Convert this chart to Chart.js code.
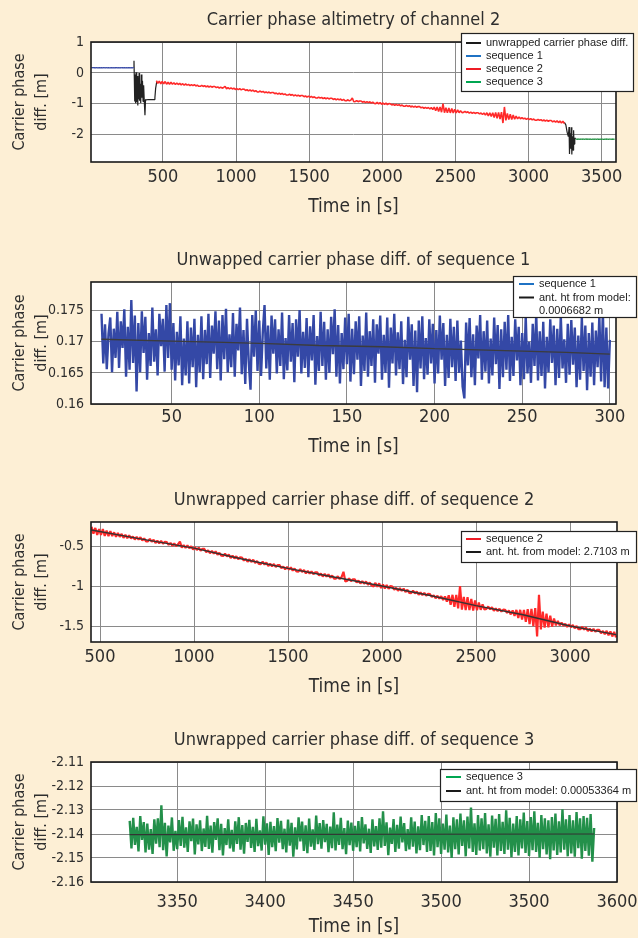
<!DOCTYPE html>
<html>
<head>
<meta charset="utf-8">
<title>Carrier phase altimetry of channel 2</title>
<script src="https://cdn.jsdelivr.net/npm/chart.js"></script>
<style>
  html, body { margin: 0; padding: 0; width: 638px; height: 938px; overflow: hidden; background: #fdefd5; }
  canvas { position: absolute; left: 0; }
</style>
</head>
<body>
<canvas id="overview" width="638" height="240" style="top:0px"></canvas>
<canvas id="seq1Chart" width="638" height="240" style="top:240px"></canvas>
<canvas id="seq2Chart" width="638" height="240" style="top:480px"></canvas>
<canvas id="seq3Chart" width="638" height="240" style="top:720px"></canvas>
<script>
// ---------------- data ----------------
// Sequence 1: carrier phase difference [m], sampled every 1 s from t = 10 s
const seq1Start = 10;
const seq1Step = 1;
const seq1Values = [
  0.1745, 0.1665, 0.1728, 0.1656, 0.1713, 0.1739, 0.1651, 0.1721, 0.1674, 0.1748,
  0.1658, 0.1733, 0.1690, 0.1752, 0.1644, 0.1724, 0.1655, 0.1767, 0.1666, 0.1742,
  0.1620, 0.1730, 0.1651, 0.1749, 0.1682, 0.1740, 0.1639, 0.1714, 0.1661, 0.1755,
  0.1668, 0.1720, 0.1646, 0.1745, 0.1693, 0.1737, 0.1652, 0.1759, 0.1674, 0.1762,
  0.1655, 0.1730, 0.1638, 0.1716, 0.1662, 0.1741, 0.1630, 0.1705, 0.1646, 0.1733,
  0.1633, 0.1723, 0.1659, 0.1737, 0.1627, 0.1711, 0.1651, 0.1741, 0.1640, 0.1719,
  0.1664, 0.1745, 0.1642, 0.1726, 0.1681, 0.1749, 0.1656, 0.1734, 0.1638, 0.1743,
  0.1672, 0.1753, 0.1651, 0.1712, 0.1659, 0.1746, 0.1644, 0.1729, 0.1686, 0.1755,
  0.1648, 0.1719, 0.1632, 0.1737, 0.1667, 0.1623, 0.1743, 0.1676, 0.1750, 0.1653,
  0.1734, 0.1645, 0.1715, 0.1759, 0.1657, 0.1726, 0.1639, 0.1742, 0.1681, 0.1736,
  0.1649, 0.1720, 0.1661, 0.1747, 0.1640, 0.1706, 0.1654, 0.1743, 0.1668, 0.1730,
  0.1635, 0.1736, 0.1676, 0.1751, 0.1649, 0.1716, 0.1658, 0.1738, 0.1643, 0.1725,
  0.1670, 0.1743, 0.1631, 0.1709, 0.1653, 0.1748, 0.1661, 0.1732, 0.1639, 0.1720,
  0.1650, 0.1740, 0.1680, 0.1752, 0.1644, 0.1727, 0.1633, 0.1714, 0.1656, 0.1739,
  0.1664, 0.1745, 0.1636, 0.1721, 0.1648, 0.1733, 0.1671, 0.1741, 0.1629, 0.1710,
  0.1653, 0.1747, 0.1644, 0.1717, 0.1661, 0.1736, 0.1634, 0.1728, 0.1681, 0.1742,
  0.1639, 0.1711, 0.1650, 0.1739, 0.1626, 0.1723, 0.1665, 0.1745, 0.1646, 0.1715,
  0.1656, 0.1733, 0.1632, 0.1703, 0.1643, 0.1740, 0.1671, 0.1728, 0.1629, 0.1718,
  0.1619, 0.1734, 0.1657, 0.1741, 0.1640, 0.1706, 0.1647, 0.1736, 0.1665, 0.1729,
  0.1633, 0.1719, 0.1649, 0.1742, 0.1671, 0.1730, 0.1629, 0.1711, 0.1642, 0.1737,
  0.1659, 0.1724, 0.1637, 0.1734, 0.1650, 0.1702, 0.1628, 0.1609, 0.1731, 0.1662,
  0.1738, 0.1643, 0.1712, 0.1630, 0.1726, 0.1673, 0.1743, 0.1639, 0.1717, 0.1652,
  0.1734, 0.1633, 0.1705, 0.1646, 0.1739, 0.1664, 0.1727, 0.1624, 0.1720, 0.1643,
  0.1732, 0.1655, 0.1743, 0.1637, 0.1708, 0.1645, 0.1736, 0.1670, 0.1724, 0.1630,
  0.1714, 0.1640, 0.1740, 0.1649, 0.1700, 0.1634, 0.1729, 0.1661, 0.1744, 0.1638,
  0.1717, 0.1645, 0.1732, 0.1625, 0.1708, 0.1651, 0.1736, 0.1666, 0.1726, 0.1630,
  0.1721, 0.1642, 0.1742, 0.1657, 0.1704, 0.1634, 0.1729, 0.1647, 0.1735, 0.1663,
  0.1723, 0.1627, 0.1710, 0.1639, 0.1739, 0.1653, 0.1726, 0.1622, 0.1714, 0.1644,
  0.1731, 0.1630, 0.1718, 0.1659, 0.1741, 0.1636, 0.1749, 0.1627, 0.1723, 0.1625,
  0.1703
];
// Antenna-height model fitted to sequence 1
const seq1ModelTime = [10, 50, 80, 105, 134, 170, 200, 225, 250, 275, 300];
const seq1ModelValues = [0.1704, 0.1701, 0.1699, 0.1697, 0.1694, 0.1692, 0.1689, 0.1687, 0.1685, 0.1683, 0.1680];

// Sequence 2: carrier phase difference [m], every 10 s from t = 455 s
const seq2Start = 455;
const seq2Step = 10;
const seq2Values = [
  -0.250, -0.336, -0.264, -0.351, -0.277, -0.352, -0.278, -0.365, -0.299, -0.367,
  -0.303, -0.365, -0.319, -0.376, -0.326, -0.376, -0.339, -0.388, -0.349, -0.393,
  -0.358, -0.395, -0.372, -0.409, -0.377, -0.410, -0.381, -0.422, -0.395, -0.432,
  -0.433, -0.402, -0.437, -0.412, -0.453, -0.423, -0.456, -0.427, -0.462, -0.437,
  -0.440, -0.475, -0.452, -0.488, -0.458, -0.493, -0.469, -0.435, -0.511, -0.478,
  -0.514, -0.483, -0.518, -0.493, -0.534, -0.505, -0.539, -0.511, -0.548, -0.524,
  -0.527, -0.566, -0.544, -0.581, -0.551, -0.585, -0.557, -0.600, -0.574, -0.612,
  -0.615, -0.585, -0.621, -0.598, -0.640, -0.611, -0.646, -0.618, -0.654, -0.631,
  -0.634, -0.672, -0.650, -0.687, -0.656, -0.689, -0.661, -0.703, -0.677, -0.715,
  -0.716, -0.686, -0.722, -0.698, -0.740, -0.710, -0.744, -0.716, -0.752, -0.728,
  -0.730, -0.768, -0.746, -0.783, -0.752, -0.785, -0.757, -0.798, -0.771, -0.809,
  -0.810, -0.780, -0.815, -0.790, -0.832, -0.802, -0.836, -0.807, -0.842, -0.818,
  -0.820, -0.858, -0.835, -0.871, -0.840, -0.873, -0.845, -0.886, -0.859, -0.897,
  -0.898, -0.868, -0.903, -0.878, -0.812, -0.934, -0.924, -0.895, -0.930, -0.906,
  -0.908, -0.946, -0.923, -0.959, -0.928, -0.961, -0.933, -0.974, -0.947, -0.985,
  -0.995, -0.951, -0.999, -0.957, -1.016, -0.970, -1.021, -0.977, -1.026, -0.989,
  -0.997, -1.035, -1.013, -1.049, -1.018, -1.051, -1.023, -1.065, -1.038, -1.076,
  -1.078, -1.047, -1.083, -1.058, -1.100, -1.071, -1.104, -1.076, -1.111, -1.087,
  -1.090, -1.128, -1.106, -1.143, -1.112, -1.147, -1.119, -1.165, -1.120, -1.185,
  -1.105, -1.225, -1.100, -1.250, -1.100, -1.270, -0.991, -1.286, -1.126, -1.291,
  -1.131, -1.292, -1.152, -1.297, -1.172, -1.292, -1.197, -1.287, -1.221, -1.284,
  -1.276, -1.246, -1.282, -1.257, -1.299, -1.269, -1.303, -1.275, -1.310, -1.286,
  -1.288, -1.326, -1.296, -1.345, -1.295, -1.364, -1.289, -1.389, -1.288, -1.408,
  -1.288, -1.438, -1.279, -1.465, -1.275, -1.491, -1.266, -1.620, -1.100, -1.533,
  -1.309, -1.509, -1.335, -1.506, -1.361, -1.497, -1.397, -1.483, -1.426, -1.481,
  -1.447, -1.485, -1.464, -1.502, -1.471, -1.505, -1.477, -1.518, -1.491, -1.529,
  -1.530, -1.500, -1.535, -1.510, -1.552, -1.522, -1.556, -1.527, -1.562, -1.538,
  -1.538, -1.581, -1.552, -1.593, -1.551, -1.605, -1.557, -1.621, -1.563, -1.633
];
// Antenna-height model fitted to sequence 2
const seq2ModelTime = [455, 700, 1000, 1250, 1500, 1750, 2000, 2250, 2500, 2750, 3000, 3245];
const seq2ModelValues = [-0.29, -0.395, -0.516, -0.65, -0.77, -0.88, -0.99, -1.105, -1.235, -1.35, -1.49, -1.598];

// Sequence 3: carrier phase difference [m], every 1 s from t = 3323 s
const seq3Start = 3323;
const seq3Step = 1;
const seq3Values = [
  -2.1345, -2.1460, -2.1333, -2.1445, -2.1370, -2.1473, -2.1325, -2.1425, -2.1350, -2.1477,
  -2.1357, -2.1465, -2.1380, -2.1483, -2.1339, -2.1440, -2.1335, -2.1455, -2.1280, -2.1467,
  -2.1353, -2.1493, -2.1365, -2.1435, -2.1331, -2.1470, -2.1387, -2.1463, -2.1342, -2.1450,
  -2.1328, -2.1457, -2.1372, -2.1475, -2.1347, -2.1430, -2.1336, -2.1485, -2.1360, -2.1443,
  -2.1343, -2.1471, -2.1377, -2.1454, -2.1324, -2.1462, -2.1365, -2.1478, -2.1350, -2.1425,
  -2.1335, -2.1467, -2.1358, -2.1489, -2.1375, -2.1446, -2.1339, -2.1460, -2.1383, -2.1474,
  -2.1347, -2.1441, -2.1330, -2.1465, -2.1363, -2.1482, -2.1354, -2.1433, -2.1341, -2.1458,
  -2.1370, -2.1475, -2.1337, -2.1451, -2.1385, -2.1469, -2.1326, -2.1444, -2.1356, -2.1487,
  -2.1349, -2.1455, -2.1367, -2.1472, -2.1334, -2.1436, -2.1345, -2.1463, -2.1378, -2.1477,
  -2.1340, -2.1449, -2.1353, -2.1495, -2.1372, -2.1464, -2.1331, -2.1431, -2.1348, -2.1471,
  -2.1364, -2.1480, -2.1336, -2.1453, -2.1381, -2.1466, -2.1323, -2.1442, -2.1355, -2.1461,
  -2.1342, -2.1434, -2.1358, -2.1476, -2.1369, -2.1459, -2.1310, -2.1468, -2.1361, -2.1445,
  -2.1333, -2.1463, -2.1375, -2.1484, -2.1344, -2.1447, -2.1352, -2.1470, -2.1366, -2.1455,
  -2.1346, -2.1473, -2.1329, -2.1439, -2.1360, -2.1462, -2.1378, -2.1479, -2.1339, -2.1452,
  -2.1367, -2.1466, -2.1335, -2.1457, -2.1305, -2.1450, -2.1351, -2.1488, -2.1373, -2.1441,
  -2.1338, -2.1475, -2.1362, -2.1461, -2.1327, -2.1435, -2.1355, -2.1471, -2.1380, -2.1464,
  -2.1331, -2.1453, -2.1348, -2.1481, -2.1368, -2.1467, -2.1321, -2.1446, -2.1345, -2.1475,
  -2.1325, -2.1471, -2.1350, -2.1489, -2.1313, -2.1455, -2.1335, -2.1483, -2.1357, -2.1465,
  -2.1319, -2.1477, -2.1365, -2.1500, -2.1330, -2.1463, -2.1339, -2.1485, -2.1315, -2.1450,
  -2.1343, -2.1493, -2.1327, -2.1460, -2.1290, -2.1475, -2.1355, -2.1487, -2.1321, -2.1469,
  -2.1335, -2.1463, -2.1313, -2.1481, -2.1360, -2.1495, -2.1323, -2.1457, -2.1337, -2.1489,
  -2.1317, -2.1471, -2.1349, -2.1483, -2.1301, -2.1465, -2.1333, -2.1497, -2.1357, -2.1475,
  -2.1325, -2.1489, -2.1339, -2.1460, -2.1311, -2.1479, -2.1346, -2.1491, -2.1329, -2.1467,
  -2.1305, -2.1475, -2.1353, -2.1499, -2.1321, -2.1463, -2.1335, -2.1485, -2.1343, -2.1505,
  -2.1329, -2.1469, -2.1315, -2.1487, -2.1347, -2.1477, -2.1297, -2.1465, -2.1339, -2.1493,
  -2.1321, -2.1481, -2.1343, -2.1495, -2.1309, -2.1459, -2.1335, -2.1503, -2.1325, -2.1471,
  -2.1333, -2.1490, -2.1317, -2.1515, -2.1375
];
// Antenna-height model fitted to sequence 3
const seq3ModelTime = [3323, 3587];
const seq3ModelValues = [-2.1403, -2.1400];

// Unwrapped phase difference outside the three sequences (cycle-slip sections)
const slipATime = [300, 302, 304, 307, 310, 313, 316, 319, 322, 325, 328, 331, 334, 337, 340, 344, 348, 352, 356, 360, 364, 368, 372, 377, 381, 386, 400, 420, 440, 445, 450, 457, 461];
const slipAValues = [0.17, 0.39, -0.10, -0.92, -0.05, -0.98, 0.02, -0.60, -0.95, -0.10, -1.05, -0.20, -0.85, 0.00, -0.90, -0.35, -0.97, -0.05, -0.80, -0.25, -0.92, -0.40, -0.88, -1.37, -0.86, -0.87, -0.86, -0.86, -0.86, -0.80, -0.50, -0.30, -0.30];
const slipBTime = [3245, 3255, 3264, 3272, 3277, 3280, 3284, 3288, 3292, 3296, 3300, 3304, 3308, 3311, 3316, 3323];
const slipBValues = [-1.60, -1.68, -1.92, -2.06, -1.75, -2.62, -1.95, -2.45, -1.76, -2.64, -2.05, -2.50, -1.85, -2.30, -2.10, -2.135];

// Axis ticks and labels
const overviewXTicks = [500, 1000, 1500, 2000, 2500, 3000, 3500];
const overviewXLabels = ['500', '1000', '1500', '2000', '2500', '3000', '3500'];
const overviewYTicks = [-2, -1, 0, 1];
const overviewYLabels = ['-2', '-1', '0', '1'];
const seq1XTicks = [50, 100, 150, 200, 250, 300];
const seq1XLabels = ['50', '100', '150', '200', '250', '300'];
const seq1YTicks = [0.16, 0.165, 0.17, 0.175];
const seq1YLabels = ['0.16', '0.165', '0.17', '0.175'];
const seq2XTicks = [500, 1000, 1500, 2000, 2500, 3000];
const seq2XLabels = ['500', '1000', '1500', '2000', '2500', '3000'];
const seq2YTicks = [-1.5, -1, -0.5];
const seq2YLabels = ['-1.5', '-1', '-0.5'];
const seq3XTicks = [3350, 3400, 3450, 3500, 3550, 3600];
const seq3XLabels = ['3350', '3400', '3450', '3500', '3500', '3600'];
const seq3YTicks = [-2.16, -2.15, -2.14, -2.13, -2.12, -2.11];
const seq3YLabels = ['-2.16', '-2.15', '-2.14', '-2.13', '-2.12', '-2.11'];

// ---------------- drawing ----------------
const INK = '#2e2e2e';
const GRID = '#8a8a8a';
const NARROW = "'Liberation Sans Narrow', 'Arial Narrow', 'DejaVu Sans Condensed', 'Roboto Condensed', 'Liberation Sans', sans-serif";
const LEGEND_FONT = "11px 'Liberation Sans', Arial, sans-serif";
const CANVAS_H = 240;

const sampled = (t0, step, values) => values.map((v, i) => ({ x: t0 + i * step, y: v }));
const paired = (times, values) => times.map((t, i) => ({ x: t, y: values[i] }));

// white plot area and black frame around it
const framePlugin = {
  id: 'frame',
  beforeDraw(chart) {
    const { ctx, chartArea: a } = chart;
    ctx.save();
    ctx.fillStyle = '#ffffff';
    ctx.fillRect(a.left, a.top, a.right - a.left, a.bottom - a.top);
    ctx.restore();
  },
  afterDatasetsDraw(chart) {
    const { ctx, chartArea: a } = chart;
    ctx.save();
    ctx.strokeStyle = '#1a1a1a';
    ctx.lineWidth = 1.6;
    ctx.strokeRect(a.left, a.top, a.right - a.left, a.bottom - a.top);
    ctx.restore();
  }
};

// boxed legend drawn over the top-right corner of each plot
function boxLegend(spec) {
  return {
    id: 'boxLegend',
    afterDraw(chart) {
      const ctx = chart.ctx;
      ctx.save();
      ctx.fillStyle = '#ffffff';
      ctx.fillRect(spec.left, spec.top, spec.width, spec.height);
      ctx.strokeStyle = '#222222';
      ctx.lineWidth = 1.2;
      ctx.strokeRect(spec.left + 0.5, spec.top + 0.5, spec.width - 1, spec.height - 1);
      ctx.font = LEGEND_FONT;
      ctx.textBaseline = 'middle';
      ctx.textAlign = 'left';
      spec.rows.forEach((row, i) => {
        const y = spec.firstRow + i * spec.rowStep;
        if (row.color) {
          ctx.strokeStyle = row.color;
          ctx.lineWidth = 2;
          ctx.beginPath();
          ctx.moveTo(spec.left + spec.lineInset, y);
          ctx.lineTo(spec.left + spec.lineInset + 15, y);
          ctx.stroke();
        }
        ctx.fillStyle = '#222222';
        ctx.fillText(row.text, spec.left + spec.textInset, y);
      });
      ctx.restore();
    }
  };
}

function makeChart(canvasId, c) {
  return new Chart(document.getElementById(canvasId), {
    type: 'line',
    data: {
      datasets: c.datasets.map(d => ({
        label: d.label,
        data: d.data,
        borderColor: d.color,
        borderWidth: d.width,
        borderJoinStyle: 'bevel',
        pointRadius: 0,
        fill: false,
        tension: 0,
        spanGaps: false
      }))
    },
    options: {
      responsive: false,
      animation: false,
      devicePixelRatio: 1,
      events: [],
      layout: { padding: { left: 0, right: c.rightPad, top: 0, bottom: 0 } },
      plugins: {
        legend: { display: false },
        tooltip: { enabled: false },
        title: {
          display: true, text: c.title, fullSize: false, color: INK,
          font: { family: NARROW, size: 18, weight: 'normal', lineHeight: '22px' },
          padding: { top: 9, bottom: 11 }
        }
      },
      scales: {
        x: {
          type: 'linear', min: c.xMin, max: c.xMax,
          afterBuildTicks: s => { s.ticks = c.xTicks.map(v => ({ value: v })); },
          afterFit: s => { s.height = CANVAS_H - c.plotBottom; s.paddingLeft = 0; s.paddingRight = 0; },
          grid: { color: GRID, lineWidth: 1, drawTicks: false },
          border: { display: false },
          ticks: {
            autoSkip: false, maxRotation: 0, minRotation: 0, padding: c.xTickPad, color: INK,
            font: { family: NARROW, size: 18, lineHeight: '20px' },
            callback: (v, i) => c.xLabels[i]
          },
          title: {
            display: true, text: 'Time in [s]', color: INK,
            font: { family: NARROW, size: 19, lineHeight: '22px' },
            padding: { top: 0, bottom: 22 }
          }
        },
        y: {
          type: 'linear', min: c.yMin, max: c.yMax,
          afterBuildTicks: s => { s.ticks = c.yTicks.map(v => ({ value: v })); },
          afterFit: s => { s.width = 91; s.paddingTop = 0; s.paddingBottom = 0; },
          grid: { color: GRID, lineWidth: 1, drawTicks: false },
          border: { display: false },
          ticks: {
            padding: 7, color: INK,
            font: { family: NARROW, size: 14, lineHeight: '18px' },
            callback: (v, i) => c.yLabels[i]
          },
          title: {
            display: true, text: ['Carrier phase', 'diff. [m]'], color: INK,
            font: { family: NARROW, size: 16, lineHeight: '22px' },
            padding: { top: 9, bottom: 0 }
          }
        }
      }
    },
    plugins: [framePlugin, boxLegend(c.legend)]
  });
}

const seq1Points = sampled(seq1Start, seq1Step, seq1Values);
const seq2Points = sampled(seq2Start, seq2Step, seq2Values);
const seq3Points = sampled(seq3Start, seq3Step, seq3Values);
const unwrappedPoints = [...paired(slipATime, slipAValues), { x: 1800, y: null }, ...paired(slipBTime, slipBValues)];

makeChart('overview', {
  title: 'Carrier phase altimetry of channel 2',
  xMin: 8, xMax: 3598, yMin: -2.88, yMax: 1,
  plotBottom: 162, rightPad: 22, xTickPad: 5,
  xTicks: overviewXTicks, xLabels: overviewXLabels, yTicks: overviewYTicks, yLabels: overviewYLabels,
  datasets: [
    { label: 'sequence 1', data: seq1Points, color: '#3a4ca8', width: 1.3 },
    { label: 'sequence 2', data: seq2Points, color: '#ff2a2a', width: 1.6 },
    { label: 'sequence 3', data: seq3Points, color: '#1f9040', width: 1.3 },
    { label: 'unwrapped carrier phase diff.', data: unwrappedPoints, color: '#222222', width: 1.2 }
  ],
  legend: {
    left: 461, top: 33, width: 173, height: 59, firstRow: 43, rowStep: 13, lineInset: 5, textInset: 25,
    rows: [
      { text: 'unwrapped carrier phase diff.', color: '#1a1a1a' },
      { text: 'sequence 1', color: '#1f72c4' },
      { text: 'sequence 2', color: '#ee1c25' },
      { text: 'sequence 3', color: '#00a651' }
    ]
  }
});

makeChart('seq1Chart', {
  title: 'Unwapped carrier phase diff. of sequence 1',
  xMin: 4, xMax: 303.5, yMin: 0.16, yMax: 0.1796,
  plotBottom: 164, rightPad: 22, xTickPad: 3,
  xTicks: seq1XTicks, xLabels: seq1XLabels, yTicks: seq1YTicks, yLabels: seq1YLabels,
  datasets: [
    { label: 'ant. ht from model', data: paired(seq1ModelTime, seq1ModelValues), color: '#3c3c3c', width: 1.3 },
    { label: 'sequence 1', data: seq1Points, color: '#3448a6', width: 2.4 }
  ],
  legend: {
    left: 513, top: 36, width: 124, height: 42, firstRow: 44, rowStep: 13.5, lineInset: 6, textInset: 26,
    rows: [
      { text: 'sequence 1', color: '#1f72c4' },
      { text: 'ant. ht from model:', color: '#1a1a1a' },
      { text: '0.0006682 m' }
    ]
  }
});

makeChart('seq2Chart', {
  title: 'Unwrapped carrier phase diff. of sequence 2',
  xMin: 452, xMax: 3250, yMin: -1.69, yMax: -0.19,
  plotBottom: 162, rightPad: 21, xTickPad: 5,
  xTicks: seq2XTicks, xLabels: seq2XLabels, yTicks: seq2YTicks, yLabels: seq2YLabels,
  datasets: [
    { label: 'ant. ht. from model', data: paired(seq2ModelTime, seq2ModelValues), color: '#333333', width: 1.4 },
    { label: 'sequence 2', data: seq2Points, color: '#ff2a2a', width: 2.2 }
  ],
  legend: {
    left: 461, top: 51, width: 176, height: 32, firstRow: 59, rowStep: 13, lineInset: 5, textInset: 25,
    rows: [
      { text: 'sequence 2', color: '#ee1c25' },
      { text: 'ant. ht. from model: 2.7103 m', color: '#1a1a1a' }
    ]
  }
});

makeChart('seq3Chart', {
  title: 'Unwrapped carrier phase diff. of sequence 3',
  xMin: 3301, xMax: 3600, yMin: -2.16, yMax: -2.11,
  plotBottom: 162, rightPad: 21, xTickPad: 10,
  xTicks: seq3XTicks, xLabels: seq3XLabels, yTicks: seq3YTicks, yLabels: seq3YLabels,
  datasets: [
    { label: 'ant. ht from model', data: paired(seq3ModelTime, seq3ModelValues), color: '#333333', width: 1.2 },
    { label: 'sequence 3', data: seq3Points, color: '#23904a', width: 2.4 }
  ],
  legend: {
    left: 440, top: 49, width: 197, height: 33, firstRow: 57, rowStep: 14, lineInset: 6, textInset: 26,
    rows: [
      { text: 'sequence 3', color: '#00a651' },
      { text: 'ant. ht from model: 0.00053364 m', color: '#1a1a1a' }
    ]
  }
});
</script>
</body>
</html>
